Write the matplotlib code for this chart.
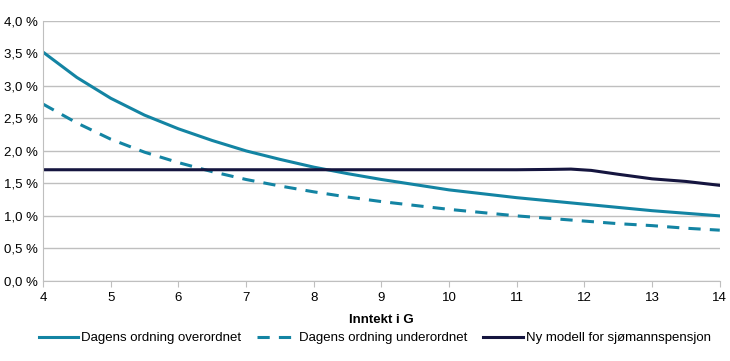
import matplotlib.pyplot as plt
from matplotlib.ticker import FuncFormatter

plt.rcParams['font.family'] = ['Liberation Sans', 'DejaVu Sans']

# Data
inntekt = [4, 4.5, 5, 5.5, 6, 6.5, 7, 7.5, 8, 8.5, 9, 9.5, 10, 10.5, 11, 11.5, 12, 12.5, 13, 13.5, 14]
overordnet = [3.52, 3.13, 2.81, 2.55, 2.34, 2.16, 2.00, 1.87, 1.75, 1.65, 1.56, 1.48,
              1.40, 1.34, 1.28, 1.23, 1.18, 1.13, 1.08, 1.04, 1.00]
underordnet = [2.72, 2.43, 2.18, 1.98, 1.82, 1.68, 1.56, 1.46, 1.37, 1.29, 1.22, 1.16,
               1.10, 1.05, 1.00, 0.96, 0.92, 0.88, 0.85, 0.81, 0.78]
ny_x = [4, 5, 6, 7, 8, 9, 10, 11, 11.5, 11.8, 12.1, 12.5, 13, 13.5, 14]
ny_modell = [1.71, 1.71, 1.71, 1.71, 1.71, 1.71, 1.71, 1.71, 1.715, 1.72, 1.70, 1.64, 1.57, 1.53, 1.47]
xticks = list(range(4, 15))

teal = '#1384a3'
navy = '#15153f'
grey = '#bfbfbf'

fig = plt.figure(figsize=(7.3, 3.61), dpi=100)
ax = fig.add_axes([0.059, 0.222, 0.927, 0.72])

ax.plot(inntekt, overordnet, color=teal, lw=2.2, label='Dagens ordning overordnet')
ax.plot(inntekt, underordnet, color=teal, lw=2.2, ls=(0, (4, 3)), label='Dagens ordning underordnet')
ax.plot(ny_x, ny_modell, color=navy, lw=2.2, label='Ny modell for sjømannspensjon')

ax.set_xlim(4, 14)
ax.set_ylim(0, 4.0)
ax.set_xticks(xticks)
ax.set_yticks([i * 0.5 for i in range(9)])
ax.yaxis.set_major_formatter(FuncFormatter(lambda v, p: f"{v:.1f} %".replace('.', ',')))

ax.grid(axis='y', color=grey, lw=1)
ax.set_axisbelow(True)
for s in ['top', 'right']:
    ax.spines[s].set_visible(False)
ax.spines['left'].set_color(grey)
ax.spines['bottom'].set_color(grey)
ax.tick_params(axis='y', length=0, labelsize=9.5, pad=4)
ax.tick_params(axis='x', length=4, color=grey, labelsize=9.5, pad=4)

ax.set_xlabel('Inntekt i G', fontsize=9.5, fontweight='bold', labelpad=7)

ax.legend(loc='center', bbox_to_anchor=(0.49, -0.22), ncol=3, frameon=False,
          fontsize=9.5, handlelength=3.0, columnspacing=1.2, handletextpad=0.2)

fig.savefig('out.png', dpi=100)
